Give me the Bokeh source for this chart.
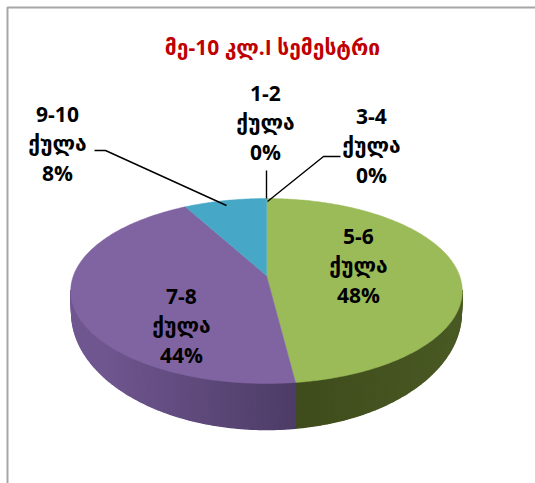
import math
from bokeh.plotting import figure
from bokeh.models import Range1d
from bokeh.core.properties import value
from bokeh.embed import file_html
from bokeh.resources import INLINE

title = "მე-10 კლ.I სემესტრი"
categories = ["1-2", "3-4", "5-6", "7-8", "9-10"]
unit = "ქულა"
percents = [0, 0, 48, 44, 8]
top_colors = ["#4f81bd", "#c0504d", "#9bbb59", "#8064a2", "#46a8c6"]
wall_near = {"5-6": "#3f4c1c", "7-8": "#4d3c66"}
wall_far = {"5-6": "#4a5a24", "7-8": "#705790"}
label_pos = [(265, 122), (371, 145), (358, 265), (181, 325), (57, 143)]
leaders = [([266, 266], [170, 198]),
           ([340, 323, 267], [156, 156, 201]),
           ([94, 105, 226], [150, 150, 205])]

CX, APEX_Y, R, S, K = 266, 275, 193, 89.9, 0.1676
ELL_Y, ELL_RY = 290.5, 92.5
LOW_Y, LOW_RY, LOW_SX = 312, 117, 0.995


def rim(theta):
    u, v = math.sin(theta), math.cos(theta)
    w = 1 + K * v
    return CX + R * u / w, APEX_Y - S * v / w


def lower(x, y):
    return CX + (x - CX) * LOW_SX, LOW_Y + (y - ELL_Y) * LOW_RY / ELL_RY


def mix(a, b, t):
    ca = [int(a[i:i + 2], 16) for i in (1, 3, 5)]
    cb = [int(b[i:i + 2], 16) for i in (1, 3, 5)]
    return "#%02x%02x%02x" % tuple(round(p + (q - p) * t) for p, q in zip(ca, cb))


p = figure(width=535, height=483, output_backend="svg", toolbar_location=None,
           x_range=Range1d(0, 535), y_range=Range1d(483, 0),
           min_border=0, outline_line_color=None)
p.axis.visible = False
p.grid.visible = False
p.background_fill_color = "white"
p.border_fill_color = "white"

# chart frame
p.line([7, 7, 535], [483, 7, 7], line_color="#a6a6a6", line_width=2)

# side wall first, then the top face over it
total = sum(percents)
seam = rim(2 * math.pi * (percents[0] + percents[1] + percents[2]) / total)[0]
start = 0.0
wall_xs, wall_ys, wall_cs = [], [], []
faces = []
for cat, pct, col in zip(categories, percents, top_colors):
    end = start + 2 * math.pi * pct / total
    if pct > 0:
        n = max(2, int(pct * 4))
        thetas = [start + (end - start) * i / n for i in range(n + 1)]
        faces.append((thetas, col))
        if cat in wall_near:
            front = [t for t in thetas if math.cos(t) < -K + 0.02]
            for t0, t1 in zip(front[:-1], front[1:]):
                a, b = rim(t0), rim(t1)
                c, d = lower(*b), lower(*a)
                f = min(1.0, abs((a[0] + b[0]) / 2 - seam) / (196 if cat == "7-8" else 170))
                wall_xs.append([a[0], b[0], c[0], d[0]])
                wall_ys.append([a[1], b[1], c[1], d[1]])
                wall_cs.append(mix(wall_near[cat], wall_far[cat], f))
    start = end
p.patches(wall_xs, wall_ys, fill_color=wall_cs, line_color=wall_cs, line_width=1.5)
for thetas, col in faces:
    pts = [rim(t) for t in thetas]
    p.patch([CX] + [q[0] for q in pts], [APEX_Y] + [q[1] for q in pts],
            fill_color=col, line_color=col, line_width=0.5)

for xs, ys in leaders:
    p.line(xs, ys, line_color="black", line_width=1.4)

FONT = value("Open Sans, DejaVu Sans")
p.text([272], [46], text=[title], text_font=FONT, text_font_style="bold",
       text_font_size="21px", text_color="#c00000", text_align="center", text_baseline="middle")
labels = [f"{c}\n{unit}\n{v}%" for c, v in zip(categories, percents)]
p.text([q[0] for q in label_pos], [q[1] for q in label_pos], text=labels, text_font=FONT,
       text_font_style="bold", text_font_size="21px", text_color="black",
       text_align="center", text_baseline="middle", text_line_height=1.07)

open("out.html", "w").write(file_html(p, INLINE))
